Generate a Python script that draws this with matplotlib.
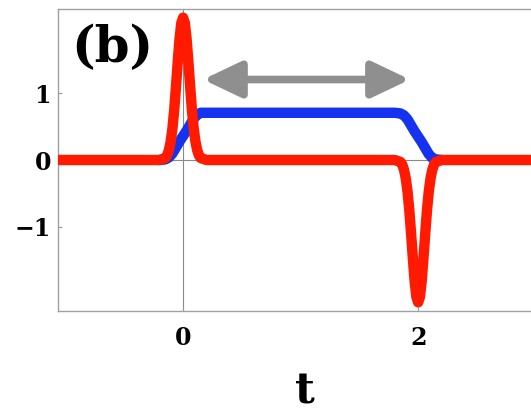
import matplotlib.pyplot as plt

# red pulse train: positive pulse at t=0, negative pulse at t=2
red_t = [-1.1, -0.2, -0.15, -0.135, -0.12, -0.105, -0.09, -0.075, -0.06, -0.045, -0.03, -0.015,
         0.0, 0.015, 0.03, 0.045, 0.06, 0.075, 0.09, 0.105, 0.12, 0.135, 0.15, 0.2,
         1.8, 1.85, 1.865, 1.88, 1.895, 1.91, 1.925, 1.94, 1.955, 1.97, 1.985,
         2.0, 2.015, 2.03, 2.045, 2.06, 2.075, 2.09, 2.105, 2.12, 2.135, 2.15, 2.2, 3.1]
red_v = [0.0, 0.0, 0.03, 0.07, 0.15, 0.28, 0.48, 0.76, 1.11, 1.48, 1.82, 2.06,
         2.14, 2.06, 1.82, 1.48, 1.11, 0.76, 0.48, 0.28, 0.15, 0.07, 0.03, 0.0,
         0.0, -0.03, -0.07, -0.15, -0.28, -0.48, -0.76, -1.11, -1.48, -1.82, -2.06,
         -2.14, -2.06, -1.82, -1.48, -1.11, -0.76, -0.48, -0.28, -0.15, -0.07, -0.03, 0.0, 0.0]

# blue plateau between the two pulses
blue_t = [-0.2, -0.15, -0.12, -0.09, -0.06, -0.03, 0.0, 0.03, 0.06, 0.09, 0.12, 0.15, 0.2,
          1.8, 1.85, 1.88, 1.91, 1.94, 1.97, 2.0, 2.03, 2.06, 2.09, 2.12, 2.15, 2.2]
blue_v = [0.0, 0.01, 0.04, 0.1, 0.19, 0.28, 0.36, 0.44, 0.53, 0.62, 0.68, 0.71, 0.71,
          0.71, 0.70, 0.67, 0.61, 0.52, 0.43, 0.35, 0.27, 0.18, 0.09, 0.03, 0.01, 0.0]

x_ticks = [0, 2]
y_ticks = [-1, 0, 1]
y_ticklabels = ['\u22121', '0', '1']
arrow_span = (0.17, 1.93)
arrow_y = 1.21

serif = 'DejaVu Serif'

fig = plt.figure(figsize=(5.31, 4.11), dpi=100)
ax = fig.add_axes([58 / 531, 100 / 411, 473 / 531, 302 / 411])

ax.axvline(0, color='#8a8a8a', lw=0.8, zorder=1)
ax.axhline(0, color='#8a8a8a', lw=0.8, zorder=1)

ax.plot(blue_t, blue_v, color='#1432f0', lw=7.5, solid_capstyle='round',
        solid_joinstyle='round', zorder=2)
ax.plot(red_t, red_v, color='#ff1a00', lw=7.5, solid_capstyle='round',
        solid_joinstyle='round', zorder=3)

ax.annotate('', xy=(arrow_span[1], arrow_y), xytext=(arrow_span[0], arrow_y),
            arrowprops=dict(arrowstyle='<|-|>,head_length=1.05,head_width=0.5',
                            mutation_scale=22, lw=5.5, color='#8f8f8f',
                            shrinkA=0, shrinkB=0))

ax.set_xlim(-1.064, 2.96)
ax.set_ylim(-2.27, 2.27)

ax.set_xticks(x_ticks)
ax.set_xticklabels([str(v) for v in x_ticks])
ax.set_yticks(y_ticks)
ax.set_yticklabels(y_ticklabels)
for lab in ax.get_xticklabels() + ax.get_yticklabels():
    lab.set_family(serif)
    lab.set_fontweight('bold')
    lab.set_fontsize(17)
ax.tick_params(direction='in', length=3, width=0.8, color='#999999')
ax.tick_params(axis='x', pad=11)
ax.tick_params(axis='y', pad=5)

for side in ['left', 'top', 'bottom']:
    ax.spines[side].set_color('#a0a0a0')
    ax.spines[side].set_linewidth(1.0)
ax.spines['right'].set_visible(False)

ax.text(0.115, 0.868, '(b)', transform=ax.transAxes, ha='center', va='center',
        family=serif, fontweight='bold', fontsize=36)
fig.text(305 / 531, 20 / 411, 't', ha='center', va='center',
         family=serif, fontweight='bold', fontsize=31)

fig.savefig('out.png', dpi=100)
